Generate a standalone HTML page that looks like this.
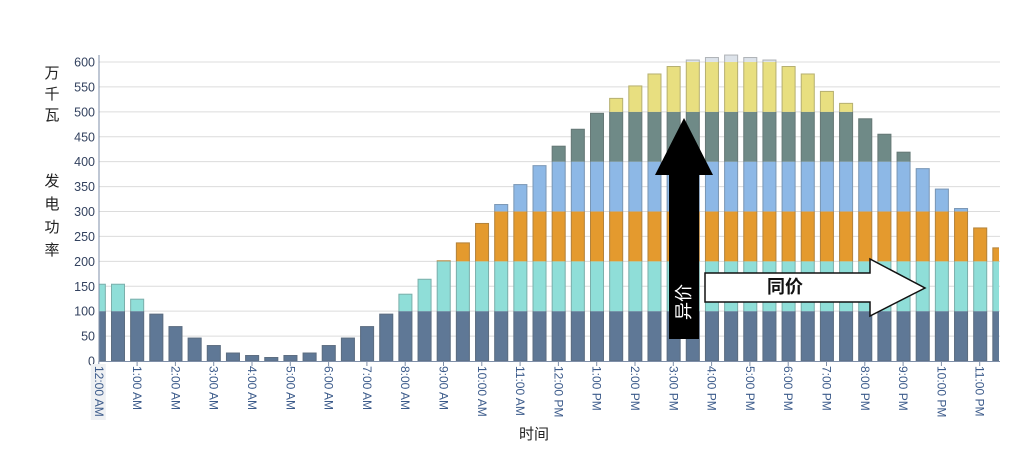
<!DOCTYPE html>
<html><head><meta charset="utf-8"><style>
body{margin:0;background:#fff;}
svg text{font-family:"Liberation Sans","Noto Sans CJK SC",sans-serif;}
</style></head><body>
<svg id="s" width="1026" height="448" xmlns="http://www.w3.org/2000/svg">
<defs><clipPath id="c"><rect x="99" y="40" width="900" height="321"/></clipPath></defs>
<g id="grid"></g>
<g id="bars" clip-path="url(#c)"></g>
<line x1="99" y1="55" x2="99" y2="362" stroke="#7f8fa8" stroke-width="1"/>
<line x1="99" y1="361.5" x2="1000" y2="361.5" stroke="#7f8fa8" stroke-width="1"/>
<g id="lab"></g>
<g font-size="15" fill="#222">
<text x="52" y="78" text-anchor="middle">万</text>
<text x="52" y="99" text-anchor="middle">千</text>
<text x="52" y="120" text-anchor="middle">瓦</text>
<text x="52" y="186" text-anchor="middle">发</text>
<text x="52" y="209" text-anchor="middle">电</text>
<text x="52" y="232" text-anchor="middle">功</text>
<text x="52" y="255" text-anchor="middle">率</text>
<text x="534" y="439" text-anchor="middle">时间</text>
</g>
<polygon points="669,339 699,339 699,175 713,175 684,118 655,175 669,175" fill="#000"/>
<text transform="translate(690,302) rotate(-90)" font-size="18" fill="#fff" text-anchor="middle">异价</text>
<polygon points="705,273 870,273 870,259 925,288 870,316 870,302 705,302" fill="#fff" stroke="#111" stroke-width="1.5"/>
<text x="785" y="293" font-size="18" font-weight="bold" fill="#111" text-anchor="middle">同价</text>
</svg>
<script>
const v=[155,155,125,95,70,47,32,17,12,8,12,17,32,47,70,95,135,165,202,238,277,315,355,393,432,466,498,528,553,577,592,605,610,615,610,605,592,577,542,518,487,456,420,387,346,307,268,228];
const cols=["#5f7896","#8fded8","#e49a2e","#8db8e6","#6f8a87","#e8df80","#dde3ea"];
const Y=x=>361-x*0.4983;
const ns="http://www.w3.org/2000/svg";
function el(t,a,p){const e=document.createElementNS(ns,t);for(const k in a)e.setAttribute(k,a[k]);document.getElementById(p).appendChild(e);return e;}
for(let g=0;g<=600;g+=50){const y=Y(g);if(g>0)el("line",{x1:99,y1:y,x2:1000,y2:y,stroke:"#dcdcdc","stroke-width":1},"grid");
const t=el("text",{x:95,y:y+4.5,"font-size":12.5,fill:"#33425f","text-anchor":"end"},"lab");t.textContent=g;}
v.forEach((tot,k)=>{const x=111+19.16*(k-1);
for(let i=0;i<7;i++){const lo=i*100,hi=i==6?9999:(i+1)*100;if(tot<=lo)break;const top=Math.min(tot,hi);
el("rect",{x:x,y:Y(top),width:14,height:Y(lo)-Y(top),fill:cols[i]},"bars");}
el("rect",{x:x+0.5,y:Y(tot)+0.5,width:13,height:Y(0)-Y(tot)-0.5,fill:"none",stroke:"rgba(90,90,90,0.35)","stroke-width":1},"bars");});
const hrs=["12:00 AM"];for(let h=1;h<12;h++)hrs.push(h+":00 AM");hrs.push("12:00 PM");for(let h=1;h<12;h++)hrs.push(h+":00 PM");
hrs.forEach((s,h)=>{const x=98.8+38.3*h;
el("line",{x1:x,y1:361,x2:x,y2:366,stroke:"#7f8fa8"},"lab");
if(h==0)el("rect",{x:x-8,y:364,width:15,height:56,fill:"#eef0f3"},"lab");
const t=el("text",{transform:`translate(${x-4},366) rotate(90)`,"font-size":12,fill:"#3b5a8a"},"lab");t.textContent=s;});
</script>
</body></html>
